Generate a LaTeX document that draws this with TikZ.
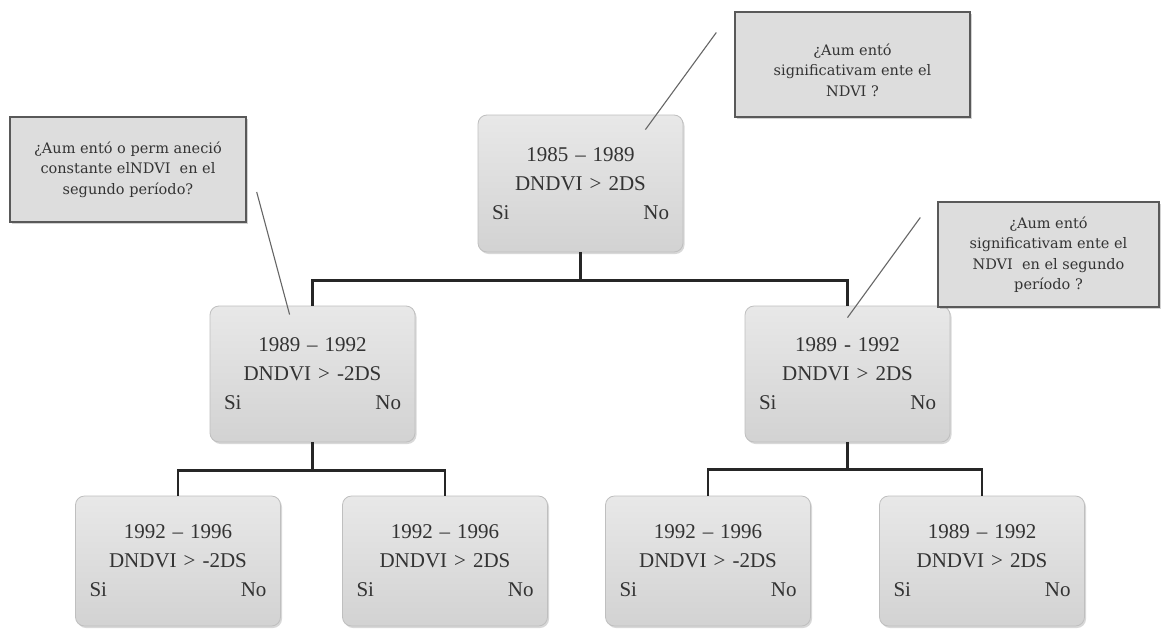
\documentclass[tikz,border=0pt]{standalone}
\usepackage{fontspec}
\setmainfont{Liberation Serif}
\newfontfamily\askfont{DejaVu Serif}
\usetikzlibrary{shadows,calc}

\begin{document}
\begin{tikzpicture}[x=1pt,y=-1pt,
   decision/.style={draw=gray!50,line width=0.8pt,rounded corners=9pt,
     top color=gray!18,middle color=gray!6,bottom color=gray!35,
     drop shadow={shadow xshift=1.5pt,shadow yshift=-2pt,opacity=0.3},
     minimum width=205pt,minimum height=136pt,text width=177pt,align=center,
     text=black!80,font=\fontsize{21}{29}\selectfont},
   question/.style={draw=black!65,line width=1.4pt,fill=gray!27,
     drop shadow={shadow xshift=2pt,shadow yshift=-2pt,opacity=0.35},
     minimum height=105pt,align=center,text=black!80,
     font=\askfont\fontsize{14.5}{20.5}\selectfont},
   branch/.style={line width=2.8pt,black!85},
   pointer/.style={line width=1.1pt,black!60}]
   \useasboundingbox[fill=white] (0,0) rectangle (1161,629);
   % decision boxes
   \node[decision,minimum height=137pt] (d0) at (580.5,183.5) {1985 -- 1989\\DNDVI > 2DS\\Si\hfill No};
   \node[decision] (d1) at (312.5,374) {1989 -- 1992\\DNDVI > -2DS\\Si\hfill No};
   \node[decision] (d2) at (847.5,374) {1989 - 1992\\DNDVI > 2DS\\Si\hfill No};
   \node[decision,minimum height=130pt] (d11) at (178,561) {1992 -- 1996\\DNDVI > -2DS\\Si\hfill No};
   \node[decision,minimum height=130pt] (d12) at (445,561) {1992 -- 1996\\DNDVI > 2DS\\Si\hfill No};
   \node[decision,minimum height=130pt] (d21) at (708,561) {1992 -- 1996\\DNDVI > -2DS\\Si\hfill No};
   \node[decision,minimum height=130pt] (d22) at (982,561) {1989 -- 1992\\DNDVI > 2DS\\Si\hfill No};
   % branches
   \coordinate (j0) at ($(d0.south)+(0,28)$);
   \draw[branch] (d0.south) -- (j0);
   \draw[branch] (d1.north) |- (j0) -| (d2.north);
   \coordinate (j1) at ($(d1.south)+(0,28)$);
   \draw[branch] (d1.south) -- (j1);
   \draw[branch] (d11.north) |- (j1) -| (d12.north);
   \coordinate (j2) at ($(d2.south)+(0,27)$);
   \draw[branch] (d2.south) -- (j2);
   \draw[branch] (d21.north) |- (j2) -| (d22.north);
   % questions
   \node[question,minimum width=235pt] (q0) at (852.5,64.5) {\rule{0pt}{23pt}¿Aum entó\\significativam ente el\\NDVI ?};
   \node[question,minimum width=236pt] (q1) at (128,169.5) {¿Aum entó o perm aneció\\constante elNDVI\ \ en el\\segundo período?};
   \node[question,minimum width=221pt] (q2) at (1048.5,254.5) {¿Aum entó\\significativam ente el\\NDVI\ \ en el segundo\\período ?};
   \coordinate (p0) at ($(d0.north east)+(-38,15)$);
   \coordinate (p0e) at ($(q0.west)+(-18,-32)$);
   \draw[pointer] (p0) -- (p0e);
   \coordinate (p1) at ($(d1.north west)+(80,9)$);
   \coordinate (p1e) at ($(q1.east)+(10,22.5)$);
   \draw[pointer] (p1) -- (p1e);
   \coordinate (p2) at ($(d2.north)+(0,12)$);
   \coordinate (p2e) at ($(q2.west)+(-17,-37)$);
   \draw[pointer] (p2) -- (p2e);
\end{tikzpicture}
\end{document}
